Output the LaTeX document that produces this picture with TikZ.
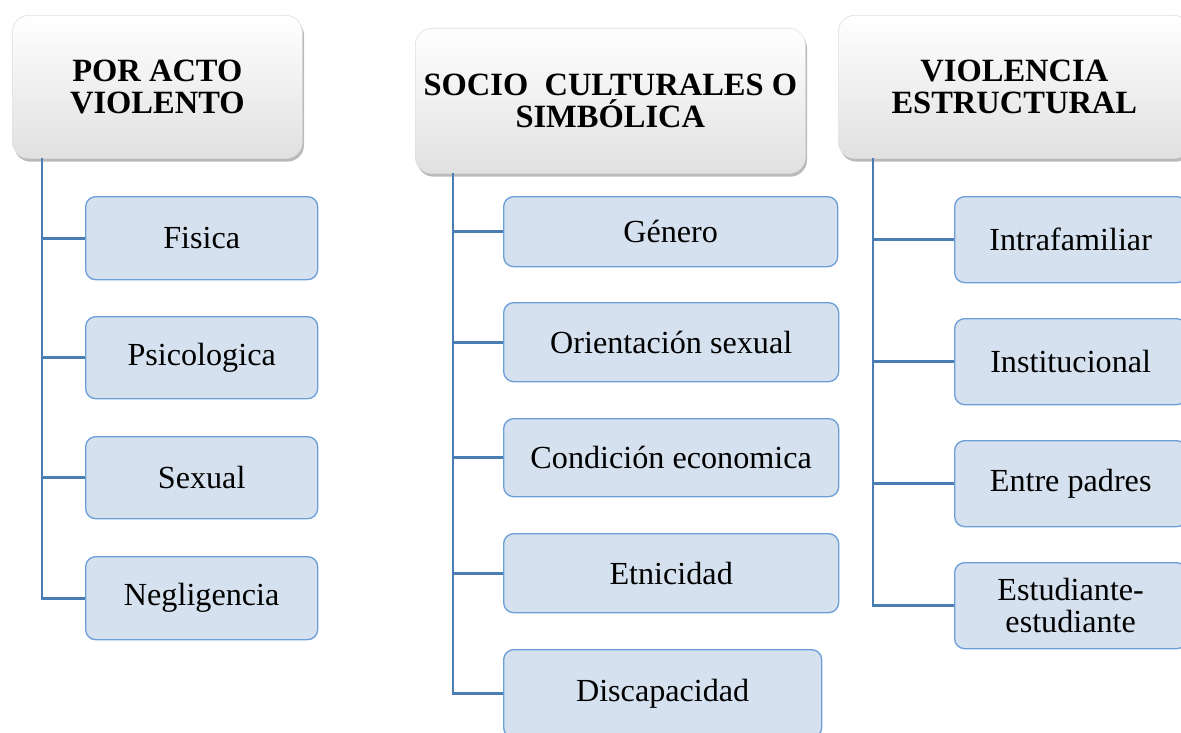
\documentclass[tikz,border=0pt]{standalone}
\usepackage{fontspec}
\setmainfont{Liberation Serif}
\usetikzlibrary{shadows}
\definecolor{boxfill}{HTML}{D6E1EF}
\definecolor{boxline}{HTML}{6C9FD7}
\definecolor{trunkcol}{HTML}{4A7DB3}
\tikzset{
  head/.style={rounded corners=10pt, anchor=north west, top color=white,
    bottom color=black!12, draw=black!12, line width=0.4pt,
    drop shadow={shadow xshift=1pt, shadow yshift=-2pt, opacity=.45, fill=black!60},
    align=center, font=\fontsize{19.5}{19.5}\selectfont\bfseries, inner sep=2pt},
  item/.style={rounded corners=6pt, anchor=north west, fill=boxfill, draw=boxline,
    line width=0.8pt, align=center, font=\fontsize{19.3}{19.5}\selectfont, inner sep=2pt},
  trunk/.style={draw=trunkcol, line width=1.7pt}
}
\begin{document}
\begin{tikzpicture}[x=0.6pt,y=-0.6pt]
\useasboundingbox (0,0) rectangle (1181,733);
\clip (0,0) rectangle (1181,733);
% headers
\node[head, minimum width=290*0.6pt, minimum height=143*0.6pt] (acto) at (12,15) {POR ACTO\\VIOLENTO};
\node[head, minimum width=390*0.6pt, minimum height=145*0.6pt] (socio) at (415,28) {SOCIO~ CULTURALES O\\SIMBÓLICA};
\node[head, minimum width=352*0.6pt, minimum height=143*0.6pt] (estr) at (838,15) {VIOLENCIA\\ESTRUCTURAL};
% first column
\node[item, minimum width=232*0.6pt, minimum height=83*0.6pt] (fis) at (85,196) {Fisica};
\node[item, minimum width=232*0.6pt, minimum height=82*0.6pt] (psi) at (85,316) {Psicologica};
\node[item, minimum width=232*0.6pt, minimum height=82*0.6pt] (sex) at (85,436) {Sexual};
\node[item, minimum width=232*0.6pt, minimum height=83*0.6pt] (neg) at (85,556) {Negligencia};
% second column
\node[item, minimum width=334*0.6pt, minimum height=70*0.6pt] (gen) at (503,196) {Género};
\node[item, minimum width=335*0.6pt, minimum height=79*0.6pt] (ori) at (503,302) {Orientación sexual};
\node[item, minimum width=335*0.6pt, minimum height=78*0.6pt] (con) at (503,418) {Condición economica};
\node[item, minimum width=335*0.6pt, minimum height=79*0.6pt] (etn) at (503,533) {Etnicidad};
\node[item, minimum width=318*0.6pt, minimum height=88*0.6pt] (dis) at (503,649) {Discapacidad};
% third column
\node[item, minimum width=232*0.6pt, minimum height=86*0.6pt] (intra) at (954,196) {Intrafamiliar};
\node[item, minimum width=232*0.6pt, minimum height=86*0.6pt] (inst) at (954,318) {Institucional};
\node[item, minimum width=232*0.6pt, minimum height=86*0.6pt] (padr) at (954,440) {Entre padres};
\node[item, minimum width=232*0.6pt, minimum height=86*0.6pt] (estu) at (954,562) {Estudiante-\\estudiante};
% connectors
\coordinate (t1) at (42,158);
\coordinate (t2) at (453,173);
\coordinate (t3) at (873,158);
\draw[trunk] (t1) |- (neg.west)
      (fis.west) -- (fis.west -| t1)
      (psi.west) -- (psi.west -| t1)
      (sex.west) -- (sex.west -| t1);
\draw[trunk] (t2) |- (dis.west)
      (gen.west) -- (gen.west -| t2)
      (ori.west) -- (ori.west -| t2)
      (con.west) -- (con.west -| t2)
      (etn.west) -- (etn.west -| t2);
\draw[trunk] (t3) |- (estu.west)
      (intra.west) -- (intra.west -| t3)
      (inst.west) -- (inst.west -| t3)
      (padr.west) -- (padr.west -| t3);
\end{tikzpicture}
\end{document}
